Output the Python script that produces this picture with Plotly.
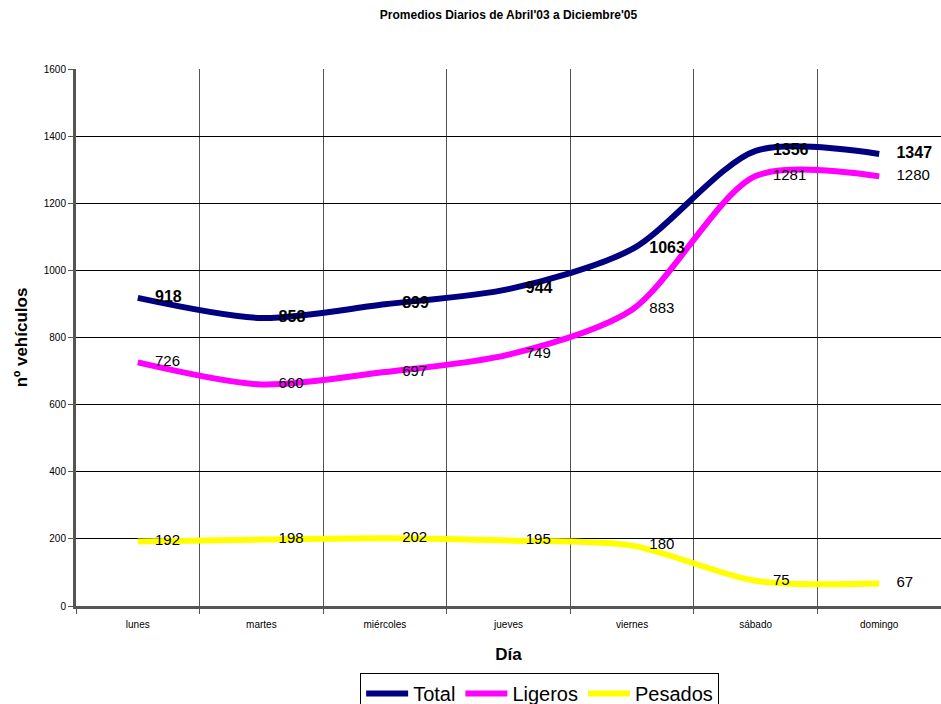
import plotly.graph_objects as go

dias = ["lunes", "martes", "miércoles", "jueves", "viernes", "sábado", "domingo"]
total = [918, 858, 899, 944, 1063, 1356, 1347]
ligeros = [726, 660, 697, 749, 883, 1281, 1280]
pesados = [192, 198, 202, 195, 180, 75, 67]
y_ticks = [0, 200, 400, 600, 800, 1000, 1200, 1400, 1600]

fig = go.Figure()
series = [
    ("Total", total, "#000080", True),
    ("Ligeros", ligeros, "#FF00FF", False),
    ("Pesados", pesados, "#FFFF00", False),
]
for name, vals, color, bold in series:
    fig.add_trace(go.Scatter(
        x=dias, y=vals, name=name, mode="lines",
        line=dict(color=color, width=6, shape="spline", smoothing=0.8),
    ))
for name, vals, color, bold in series:
    fig.add_trace(go.Scatter(
        x=dias, y=vals, name=name, mode="markers+text", showlegend=False,
        marker=dict(size=26, opacity=0, color=color),
        text=[f"<b>{v}</b>" if bold else str(v) for v in vals],
        textposition="middle right",
        textfont=dict(family="Liberation Sans, Arial", size=16 if bold else 15, color="black"),
        cliponaxis=False, hoverinfo="skip",
    ))

fig.update_layout(
    width=941, height=704,
    paper_bgcolor="white", plot_bgcolor="white",
    margin=dict(l=76, r=0, t=69, b=98),
    font=dict(family="Liberation Sans, Arial", color="black"),
    title=dict(text="<b>Promedios Diarios de Abril'03 a Diciembre'05</b>",
               x=0.5, xref="paper", y=1 - 15 / 704, yanchor="middle",
               font=dict(size=12)),
    xaxis=dict(
        title=dict(text="<b>Día</b>", font=dict(size=17), standoff=20),
        tickson="boundaries", showgrid=True, gridcolor="#555555", gridwidth=1,
        ticks="outside", ticklen=5, tickcolor="#555555", ticklabelstandoff=7,
        tickfont=dict(size=10), showline=True, linecolor="#555555", linewidth=3,
        range=[-0.5, 6.5], automargin=False,
    ),
    yaxis=dict(
        title=dict(text="<b>nº vehículos</b>", font=dict(size=17), standoff=12),
        range=[0, 1600], tickvals=y_ticks, showgrid=True, gridcolor="black", gridwidth=1,
        ticks="outside", ticklen=5, tickcolor="#555555",
        tickfont=dict(size=10), showline=True, linecolor="#555555", linewidth=3,
        zeroline=False, automargin=False,
    ),
    legend=dict(
        orientation="h", x=0.536, xanchor="center",
        yref="container", y=31 / 704, yanchor="top",
        bordercolor="black", borderwidth=1, font=dict(size=20),
        itemwidth=42, tracegroupgap=0,
    ),
    showlegend=True,
)

fig.write_html(
    "out.html",
    config={"displayModeBar": False},
    post_script="document.body.style.margin='0';document.body.style.overflow='hidden';",
)
